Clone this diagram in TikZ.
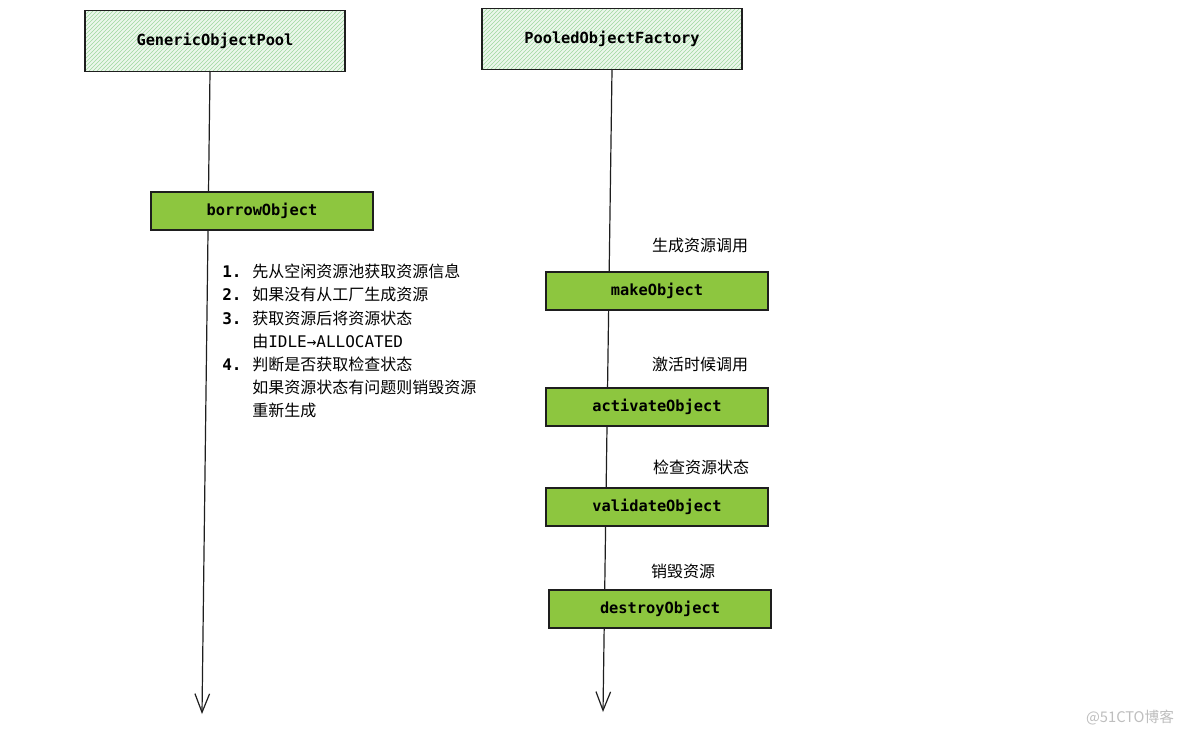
\documentclass[tikz,border=0pt]{standalone}
\usepackage{fontspec}
\setmainfont{Noto Sans CJK SC}
\setmonofont{DejaVu Sans Mono}
\newfontfamily\cjk{Noto Sans CJK SC}
\usetikzlibrary{arrows.meta,patterns,backgrounds}
\definecolor{hatchbg}{RGB}{236,247,236}
\definecolor{hatchline}{RGB}{160,216,160}
\definecolor{boxgreen}{RGB}{141,198,63}
\definecolor{edgedark}{RGB}{30,30,30}
\definecolor{wmark}{RGB}{190,190,190}
\tikzset{
  classbox/.style={fill=hatchbg,
    postaction={pattern=north east lines, pattern color=hatchline},
    postaction={draw=edgedark, line width=1pt},
    minimum width=195pt, minimum height=45.75pt, inner sep=0pt,
    font=\ttfamily\bfseries\fontsize{11.5}{13}\selectfont},
  methodbox/.style={draw=edgedark, line width=1pt, fill=boxgreen,
    minimum width=166.5pt, minimum height=28.5pt, inner sep=0pt,
    font=\ttfamily\bfseries\fontsize{11.5}{13}\selectfont},
  lifeline/.style={draw=edgedark, line width=0.9pt,
    -{Straight Barb[length=14pt,width=11pt,line width=0.9pt]}},
  note/.style={font=\cjk\fontsize{12}{14}\selectfont, text=black, inner sep=0pt}
}
\begin{document}
\begin{tikzpicture}[x=0.75pt,y=-0.75pt]
\useasboundingbox (0,0) rectangle (1184,736);

\node[classbox] (gop) at (215,41) {GenericObjectPool};
\node[classbox] (pof) at (612,39) {PooledObjectFactory};

\node[methodbox] (borrow) at (262,211) {borrowObject};
\node[methodbox] (make) at (657,291) {makeObject};
\node[methodbox] (activate) at (657,407) {activateObject};
\node[methodbox] (validate) at (657,507) {validateObject};
\node[methodbox] (destroy) at (660,609) {destroyObject};

\coordinate (lend) at (202,714);
\coordinate (rend) at (603,712);

\begin{scope}[on background layer]
  \fill[white] (0,0) rectangle (1184,736);
  \draw[lifeline] ([xshift=-3.75pt]gop.south) -- (lend);
  \draw[lifeline] (pof.south) -- (rend);
\end{scope}

\node[note] (lmake) at (700,245) {生成资源调用};
\node[note] (lact) at (700,364) {激活时候调用};
\node[note] (lval) at (701,467) {检查资源状态};
\node[note] (ldes) at (683,571) {销毁资源};

\node[note, anchor=north west, align=left] (steps) at (222,264) {%
  \renewcommand{\arraystretch}{1.0}%
  \setlength{\tabcolsep}{0pt}%
  \begin{tabular}{@{}p{22.5pt}@{}l@{}}
  {\ttfamily\bfseries 1.} & 先从空闲资源池获取资源信息\\[3pt]
  {\ttfamily\bfseries 2.} & 如果没有从工厂生成资源\\[3pt]
  {\ttfamily\bfseries 3.} & 获取资源后将资源状态\\[3pt]
   & 由{\ttfamily IDLE→ALLOCATED}\\[3pt]
  {\ttfamily\bfseries 4.} & 判断是否获取检查状态\\[3pt]
   & 如果资源状态有问题则销毁资源\\[3pt]
   & 重新生成
  \end{tabular}};

\node[font=\cjk\fontsize{11}{13}\selectfont, text=wmark, inner sep=0pt] (wm) at (1130,718) {@51CTO博客};
\end{tikzpicture}
\end{document}
